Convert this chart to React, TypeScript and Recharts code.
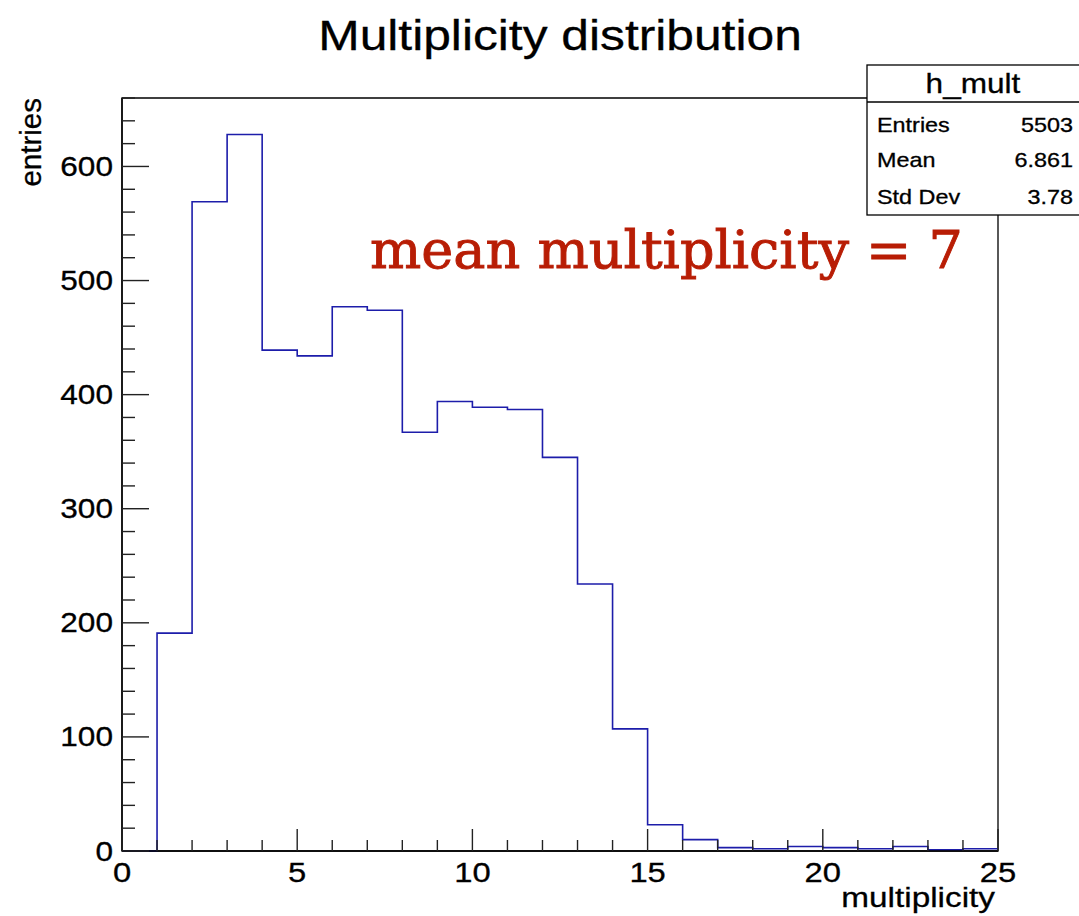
import React from "react";
import {
  LineChart,
  Line,
  XAxis,
  YAxis,
  ReferenceArea,
} from "recharts";

// h_mult: entries per multiplicity bin, bins [0,1) ... [24,25)
const binLowEdges = [
  0, 1, 2, 3, 4, 5, 6, 7, 8, 9, 10, 11, 12, 13, 14, 15, 16, 17, 18, 19, 20, 21, 22, 23, 24,
];
const binCounts = [
  0, 191, 569, 628, 439, 434, 477, 474, 367, 394, 389, 387, 345, 234, 107, 23, 10, 3, 2, 4, 3, 2, 4, 1, 2,
];
const xTicks = [
  0, 1, 2, 3, 4, 5, 6, 7, 8, 9, 10, 11, 12, 13, 14, 15, 16, 17, 18, 19, 20, 21, 22, 23, 24, 25,
];
const yTicks = [
  0, 20, 40, 60, 80, 100, 120, 140, 160, 180, 200, 220, 240, 260, 280, 300, 320, 340, 360, 380,
  400, 420, 440, 460, 480, 500, 520, 540, 560, 580, 600, 620, 640, 660,
];
const statLabels = ["Entries", "Mean", "Std Dev"];
const statValues = ["5503", "6.861", "3.78"];

const W = 1079;
const H = 916;
const SANS = "'Liberation Sans', Arial, Helvetica, sans-serif";
const SX = 1.17; // glyphs are drawn a bit wide
const LINE_BLUE = "#1d1daa";

// step data: one point per low edge plus the closing edge at 25
const histData = binLowEdges
  .map((x, i) => ({ x, n: binCounts[i] }))
  .concat([{ x: 25, n: binCounts[binCounts.length - 1] }]);

function Wide({ x, y, anchor, size, children, fill = "#000", family = SANS }: any) {
  return (
    <g transform={`translate(${x},${y}) scale(${SX},1)`}>
      <text
        x={0}
        y={0}
        textAnchor={anchor}
        fontSize={size}
        fontFamily={family}
        fill={fill}
        stroke={fill}
        strokeWidth={0.3}
      >
        {children}
      </text>
    </g>
  );
}

function XTick(props: any) {
  const { x, y, payload } = props;
  const v = payload.value as number;
  const major = v % 5 === 0;
  return (
    <g>
      <line x1={x} y1={y} x2={x} y2={y - (major ? 22 : 11)} stroke="#222" strokeWidth={1.4} />
      {major && (
        <Wide x={x} y={y + 31} anchor="middle" size={28}>
          {v}
        </Wide>
      )}
    </g>
  );
}

function YTick(props: any) {
  const { x, y, payload } = props;
  const v = payload.value as number;
  const major = v % 100 === 0;
  return (
    <g>
      <line x1={x} y1={y} x2={x + (major ? 27 : 13)} y2={y} stroke="#222" strokeWidth={1.4} />
      {major && (
        <Wide x={x - 9} y={y + 9.5} anchor="end" size={27}>
          {v}
        </Wide>
      )}
    </g>
  );
}

function Overlay() {
  const bx = 867;
  const by = 65;
  const rowY = [132, 167, 204];
  return (
    <svg
      width={W}
      height={H}
      style={{ position: "absolute", left: 0, top: 0, pointerEvents: "none" }}
    >
      <Wide x={560} y={50} anchor="middle" size={42.5}>
        Multiplicity distribution
      </Wide>

      <g transform="translate(41,98) rotate(-90)">
        <text
          x={0}
          y={0}
          textAnchor="end"
          fontSize={29.5}
          fontFamily={SANS}
          stroke="#000"
          strokeWidth={0.3}
        >
          entries
        </text>
      </g>

      <Wide x={995} y={907} anchor="end" size={28.5}>
        multiplicity
      </Wide>

      <text
        x={370}
        y={268}
        fontSize={53}
        fontFamily="'DejaVu Serif', 'Liberation Serif', serif"
        fill="#b81d05"
        stroke="#b81d05"
        strokeWidth={0.9}
        textLength={593}
        lengthAdjust="spacingAndGlyphs"
      >
        mean multiplicity = 7
      </text>

      {/* stats box */}
      <rect x={bx} y={by} width={W - bx + 20} height={215 - by} fill="#fff" stroke="#000" strokeWidth={1.3} />
      <line x1={bx} y1={102} x2={W} y2={102} stroke="#000" strokeWidth={1.3} />
      <Wide x={973} y={93} anchor="middle" size={27}>
        h_mult
      </Wide>
      {statLabels.map((s, i) => (
        <g key={s}>
          <Wide x={877} y={rowY[i]} anchor="start" size={20}>
            {s}
          </Wide>
          <Wide x={1073} y={rowY[i]} anchor="end" size={20}>
            {statValues[i]}
          </Wide>
        </g>
      ))}
    </svg>
  );
}

export default function App() {
  return (
    <div style={{ position: "absolute", left: 0, top: 0, width: W, height: H, background: "#fff" }}>
      <LineChart
        width={W}
        height={H}
        data={histData}
        margin={{ top: 98, right: 81, bottom: 0, left: 0 }}
      >
        <XAxis
          dataKey="x"
          type="number"
          domain={[0, 25]}
          ticks={xTicks}
          interval={0}
          height={65}
          tickSize={0}
          tickMargin={0}
          tickLine={false}
          axisLine={{ stroke: "#000", strokeWidth: 1.4 }}
          tick={<XTick />}
        />
        <YAxis
          type="number"
          domain={[0, 660]}
          ticks={yTicks}
          interval={0}
          width={122}
          tickSize={0}
          tickMargin={0}
          tickLine={false}
          axisLine={{ stroke: "#000", strokeWidth: 1.4 }}
          tick={<YTick />}
        />
        <ReferenceArea
          x1={0}
          x2={25}
          y1={0}
          y2={660}
          fill="none"
          stroke="#000"
          strokeWidth={1.3}
          ifOverflow="visible"
        />
        <Line
          type="stepAfter"
          dataKey="n"
          stroke={LINE_BLUE}
          strokeWidth={1.6}
          dot={false}
          isAnimationActive={false}
        />
      </LineChart>
      <Overlay />
    </div>
  );
}
